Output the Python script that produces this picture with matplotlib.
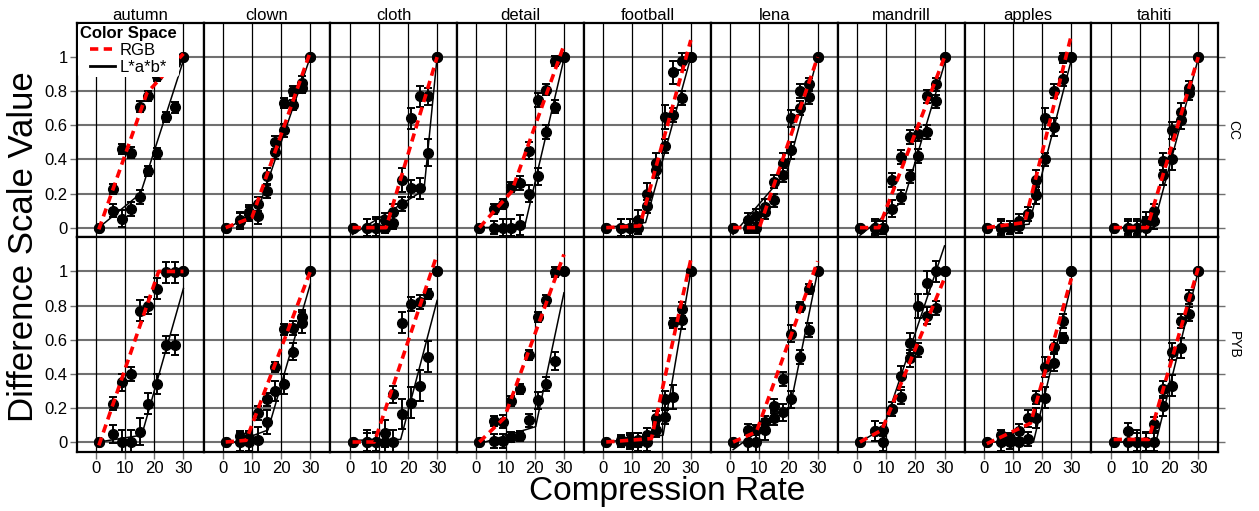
import matplotlib
matplotlib.use("Agg")
import matplotlib.pyplot as plt
from matplotlib.lines import Line2D

plt.rcParams["font.family"] = ["Liberation Sans", "DejaVu Sans"]

# compression rates used in the experiment
x_rate = [1, 6, 9, 12, 15, 18, 21, 24, 27, 30]
images = ["autumn", "clown", "cloth", "detail", "football", "lena", "mandrill", "apples", "tahiti"]
rows = ["CC", "PYB"]

# difference scale values, one list per image (row CC)
rgb_cc = [
    [0, 0.225, 0.46, 0.44, 0.71, 0.77, 0.89, 0.93, 0.965, 1],
    [0, 0.04, 0.09, 0.14, 0.30, 0.50, 0.73, 0.80, 0.85, 1],
    [0, 0.0, 0.0, 0.043, 0.09, 0.28, 0.64, 0.77, 0.77, 1],
    [0, 0.11, 0.137, 0.24, 0.26, 0.45, 0.75, 0.81, 0.975, 1],
    [0, 0.0, 0.0, 0.043, 0.20, 0.38, 0.65, 0.91, 0.975, 1],
    [0, 0.0, 0.0, 0.09, 0.27, 0.38, 0.64, 0.80, 0.84, 1],
    [0, 0.0, 0.0, 0.28, 0.415, 0.53, 0.55, 0.77, 0.84, 1],
    [0, 0.0, 0.0, 0.04, 0.08, 0.28, 0.64, 0.80, 0.995, 1],
    [0, 0.0, 0.0, 0.04, 0.10, 0.39, 0.57, 0.68, 0.82, 1],
]
lab_cc = [
    [0, 0.10, 0.053, 0.11, 0.18, 0.33, 0.435, 0.65, 0.705, 1],
    [0, 0.045, 0.08, 0.07, 0.215, 0.445, 0.57, 0.72, 0.82, 1],
    [0, 0.0, 0.0, 0.0, 0.03, 0.14, 0.23, 0.23, 0.44, 1],
    [0, 0.0, 0.0, 0.0, 0.014, 0.20, 0.30, 0.56, 0.71, 1],
    [0, 0.0, 0.0, 0.0, 0.125, 0.34, 0.48, 0.66, 0.76, 1],
    [0, 0.043, 0.067, 0.12, 0.16, 0.31, 0.455, 0.70, 0.765, 1],
    [0, 0.0, 0.0, 0.11, 0.18, 0.30, 0.42, 0.56, 0.74, 1],
    [0, 0.0, 0.0, 0.01, 0.08, 0.19, 0.40, 0.59, 0.87, 1],
    [0, 0.0, 0.0, 0.0, 0.04, 0.31, 0.40, 0.63, 0.79, 1],
]
# row PYB
rgb_pyb = [
    [0, 0.225, 0.35, 0.40, 0.77, 0.80, 0.90, 0.995, 0.995, 1],
    [0, 0.033, 0.024, 0.17, 0.25, 0.44, 0.66, 0.67, 0.735, 1],
    [0, 0.0, 0.0, 0.05, 0.28, 0.70, 0.81, 0.82, 0.87, 1],
    [0, 0.125, 0.12, 0.24, 0.31, 0.51, 0.735, 0.83, 0.995, 1],
    [0, 0.01, 0.01, 0.01, 0.04, 0.14, 0.25, 0.70, 0.78, 1],
    [0, 0.073, 0.07, 0.12, 0.21, 0.37, 0.635, 0.79, 0.895, 1],
    [0, 0.063, 0.0, 0.195, 0.265, 0.49, 0.54, 0.74, 0.785, 1],
    [0, 0.043, 0.023, 0.063, 0.14, 0.26, 0.44, 0.56, 0.71, 1],
    [0, 0.063, 0.0, 0.0, 0.106, 0.31, 0.53, 0.71, 0.85, 1],
]
lab_pyb = [
    [0, 0.047, 0.0, 0.0, 0.06, 0.225, 0.34, 0.57, 0.57, 1],
    [0, 0.0, 0.0, 0.01, 0.115, 0.30, 0.34, 0.53, 0.70, 1],
    [0, 0.0, 0.0, 0.0, 0.0, 0.165, 0.23, 0.33, 0.50, 1],
    [0, 0.004, 0.004, 0.03, 0.033, 0.127, 0.245, 0.34, 0.475, 1],
    [0, 0.0, 0.0, 0.0, 0.0, 0.07, 0.147, 0.265, 0.715, 1],
    [0, 0.0, 0.0, 0.073, 0.14, 0.175, 0.25, 0.50, 0.655, 1],
    [0, 0.063, 0.073, 0.195, 0.385, 0.58, 0.80, 0.935, 1.0, 1],
    [0, 0.0, 0.0, 0.0, 0.018, 0.14, 0.26, 0.465, 0.61, 1],
    [0, 0.0, 0.0, 0.0, 0.0, 0.21, 0.33, 0.55, 0.75, 1],
]

# standard errors
rgb_cc_err = [
    [0, 0.03, 0.03, 0.03, 0.03, 0.03, 0.03, 0.03, 0.04, 0],
    [0, 0.05, 0.04, 0.04, 0.05, 0.04, 0.03, 0.03, 0.04, 0],
    [0, 0.05, 0.06, 0.04, 0.05, 0.07, 0.06, 0.06, 0.05, 0],
    [0, 0.03, 0.03, 0.03, 0.04, 0.05, 0.04, 0.03, 0.03, 0],
    [0, 0.05, 0.05, 0.06, 0.06, 0.06, 0.07, 0.07, 0.05, 0],
    [0, 0.03, 0.03, 0.04, 0.04, 0.06, 0.05, 0.04, 0.04, 0],
    [0, 0.04, 0.04, 0.04, 0.04, 0.04, 0.04, 0.04, 0.04, 0],
    [0, 0.05, 0.04, 0.04, 0.04, 0.06, 0.06, 0.04, 0.03, 0],
    [0, 0.05, 0.05, 0.05, 0.04, 0.05, 0.05, 0.05, 0.04, 0],
]
lab_cc_err = [
    [0, 0.04, 0.05, 0.04, 0.04, 0.03, 0.03, 0.03, 0.03, 0],
    [0, 0.04, 0.04, 0.05, 0.04, 0.04, 0.04, 0.03, 0.03, 0],
    [0, 0.05, 0.05, 0.03, 0.04, 0.04, 0.05, 0.06, 0.08, 0],
    [0, 0.04, 0.05, 0.05, 0.06, 0.05, 0.05, 0.04, 0.04, 0],
    [0, 0.05, 0.05, 0.04, 0.04, 0.05, 0.04, 0.04, 0.04, 0],
    [0, 0.04, 0.04, 0.05, 0.04, 0.04, 0.05, 0.04, 0.04, 0],
    [0, 0.05, 0.04, 0.05, 0.04, 0.04, 0.04, 0.04, 0.04, 0],
    [0, 0.04, 0.04, 0.04, 0.04, 0.05, 0.04, 0.05, 0.04, 0],
    [0, 0.04, 0.04, 0.06, 0.05, 0.06, 0.06, 0.05, 0.04, 0],
]
rgb_pyb_err = [
    [0, 0.04, 0.05, 0.04, 0.06, 0.05, 0.06, 0.06, 0.06, 0],
    [0, 0.03, 0.04, 0.04, 0.04, 0.03, 0.03, 0.04, 0.04, 0],
    [0, 0.05, 0.05, 0.08, 0.05, 0.06, 0.04, 0.04, 0.03, 0],
    [0, 0.03, 0.04, 0.03, 0.03, 0.03, 0.03, 0.03, 0.03, 0],
    [0, 0.03, 0.04, 0.04, 0.04, 0.04, 0.05, 0.03, 0.04, 0],
    [0, 0.03, 0.03, 0.03, 0.04, 0.04, 0.05, 0.03, 0.03, 0],
    [0, 0.06, 0.05, 0.04, 0.04, 0.05, 0.04, 0.05, 0.04, 0],
    [0, 0.03, 0.03, 0.04, 0.05, 0.04, 0.06, 0.04, 0.04, 0],
    [0, 0.05, 0.05, 0.05, 0.04, 0.05, 0.05, 0.04, 0.04, 0],
]
lab_pyb_err = [
    [0, 0.055, 0.07, 0.07, 0.08, 0.06, 0.06, 0.05, 0.06, 0],
    [0, 0.05, 0.05, 0.08, 0.07, 0.06, 0.06, 0.05, 0.06, 0],
    [0, 0.07, 0.06, 0.06, 0.07, 0.09, 0.09, 0.09, 0.09, 0],
    [0, 0.04, 0.04, 0.03, 0.03, 0.04, 0.05, 0.04, 0.05, 0],
    [0, 0.03, 0.04, 0.05, 0.05, 0.04, 0.04, 0.07, 0.05, 0],
    [0, 0.06, 0.06, 0.06, 0.04, 0.05, 0.05, 0.04, 0.04, 0],
    [0, 0.06, 0.04, 0.04, 0.06, 0.06, 0.07, 0.07, 0.06, 0],
    [0, 0.05, 0.04, 0.06, 0.04, 0.06, 0.06, 0.05, 0.03, 0],
    [0, 0.06, 0.07, 0.06, 0.05, 0.06, 0.06, 0.06, 0.04, 0],
]

# two-segment fits: (value at rate 1, break rate, value at break, value at rate 30)
rgb_cc_fit = [
    (-0.01, 17.5, 0.79, 1.02), (0.0, 10, 0.06, 1.03), (0.0, 12.5, 0.0, 1.0),
    (0.0, 12, 0.21, 1.07), (0.0, 12.5, 0.01, 1.1), (0.0, 10, 0.0, 1.0),
    (0.0, 7.5, 0.0, 1.0), (0.0, 14, 0.03, 1.13), (0.0, 12.5, 0.0, 1.0),
]
lab_cc_fit = [
    (0.0, 15.3, 0.2, 0.98), (-0.01, 12, 0.1, 1.0), (-0.04, 25.5, 0.22, 1.0),
    (0.0, 16.5, 0.005, 0.99), (0.0, 14.5, 0.03, 1.0), (-0.04, 19.5, 0.33, 1.0),
    (-0.045, 16, 0.16, 0.96), (0.0, 15.5, 0.02, 0.985), (0.0, 14.5, 0.0, 0.99),
]
rgb_pyb_fit = [
    (-0.02, 21.5, 1.0, 1.0), (0.0, 8, 0.01, 1.0), (0.0, 8.5, 0.0, 1.1),
    (0.0, 9.5, 0.14, 1.1), (0.0, 16.5, 0.02, 1.07), (0.0, 9, 0.06, 1.06),
    (0.0, 8.5, 0.07, 0.96), (-0.01, 16, 0.11, 0.96), (0.015, 13, 0.015, 1.02),
]
lab_pyb_fit = [
    (0.0, 15.7, 0.04, 0.9), (-0.02, 15.5, 0.07, 0.925), (0.01, 17.5, 0.015, 0.83),
    (-0.01, 20.3, 0.09, 0.875), (0.0, 20.5, 0.04, 1.0), (-0.045, 20.5, 0.2, 1.0),
    (0.0, 9, 0.08, 1.15), (0.0, 17, 0.0, 0.925), (0.0, 15.5, 0.0, 1.0),
]

rgb_vals = [rgb_cc, rgb_pyb]
lab_vals = [lab_cc, lab_pyb]
rgb_errs = [rgb_cc_err, rgb_pyb_err]
lab_errs = [lab_cc_err, lab_pyb_err]
rgb_fits = [rgb_cc_fit, rgb_pyb_fit]
lab_fits = [lab_cc_fit, lab_pyb_fit]

fig, axes = plt.subplots(2, 9, figsize=(12.59, 5.11), dpi=100, sharex=True, sharey=True)
fig.subplots_adjust(left=0.0609, right=0.9677, top=0.955, bottom=0.116, wspace=0, hspace=0)

for r in range(2):
    for c in range(9):
        ax = axes[r, c]
        for yv in [0, 0.2, 0.4, 0.6, 0.8, 1.0]:
            ax.axhline(yv, color="#707070", lw=1.5, zorder=0)
        for xv in [0, 10, 20, 30]:
            ax.axvline(xv, color="black", lw=0.9, zorder=0)

        for vals, errs in [(lab_vals[r][c], lab_errs[r][c]), (rgb_vals[r][c], rgb_errs[r][c])]:
            ax.errorbar(x_rate, vals, yerr=errs, fmt="o", color="black", ms=7,
                        elinewidth=1.4, capsize=3, capthick=1.4, zorder=3)

        y1, bx, yb, y30 = lab_fits[r][c]
        ax.plot([1, bx, 30], [y1, yb, y30], color="black", lw=1.1, zorder=4)
        y1, bx, yb, y30 = rgb_fits[r][c]
        ax.plot([1, bx, 30], [y1, yb, y30], color="red", lw=2.6, dashes=(2.3, 1.5), zorder=5)

        ax.set_xlim(-6.6, 36.9)
        ax.set_ylim(-0.057, 1.2)
        for sp in ax.spines.values():
            sp.set_linewidth(1.6)
            sp.set_color("black")
        ax.tick_params(length=5, width=1, color="#707070", labelsize=12, pad=1.5,
                       left=(c == 0), right=(c == 8), bottom=(r == 1), top=False,
                       labelleft=(c == 0), labelbottom=(r == 1))
        if r == 0:
            ax.set_title(images[c], fontsize=12, pad=2)
        if c == 8:
            ax.text(1.12, 0.5, rows[r], transform=ax.transAxes, rotation=270,
                    ha="center", va="center", fontsize=10)

axes[0, 0].set_xticks([0, 10, 20, 30])
axes[0, 0].set_yticks([0, 0.2, 0.4, 0.6, 0.8, 1.0])
axes[0, 0].set_yticklabels(["0", "0.2", "0.4", "0.6", "0.8", "1"])

handles = [Line2D([], [], color="red", lw=2.6, dashes=(2.3, 1.5)),
           Line2D([], [], color="black", lw=2)]
leg = axes[0, 0].legend(handles, ["RGB", "L*a*b*"], title="Color Space", loc="upper left",
                        fontsize=12, title_fontsize=12, frameon=True, facecolor="white",
                        edgecolor="none", framealpha=1, borderaxespad=0.05, borderpad=0.15,
                        handlelength=1.5, handletextpad=0.3, labelspacing=0.1)
leg.get_title().set_fontweight("bold")
leg.set_zorder(10)

fig.text(24 / 1259, 0.517, "Difference Scale Value", rotation=90, ha="center", va="center", fontsize=25)
fig.text(667 / 1259, 1 - 500 / 511, "Compression Rate", ha="center", va="baseline", fontsize=24)

fig.savefig("out.png", dpi=100)
